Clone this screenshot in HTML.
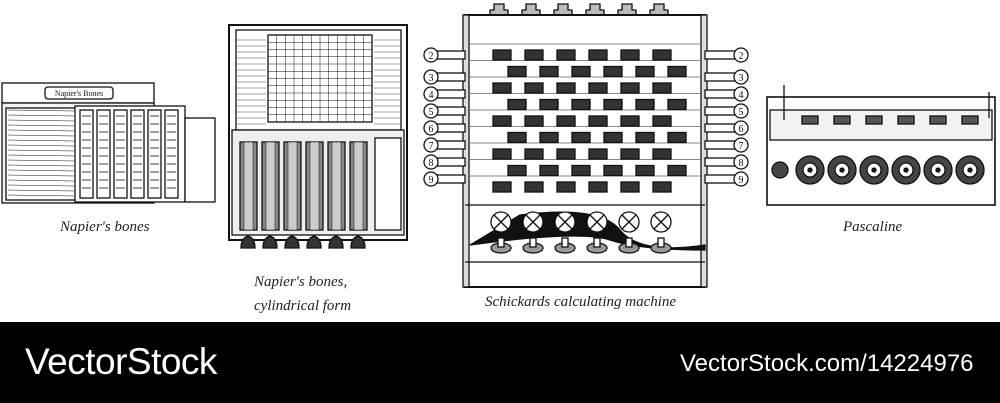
<!DOCTYPE html>
<html><head><meta charset="utf-8"><style>
body{margin:0;width:1000px;height:403px;overflow:hidden;background:#fff;font-family:"Liberation Serif",serif}
#bar{position:absolute;left:0;top:322px;width:1000px;height:81px;background:#000;color:#fff;font-family:"Liberation Sans",sans-serif}
.lbl{position:absolute;font-style:italic;font-size:15px;color:#222;font-family:"Liberation Serif",serif}
</style></head><body>
<svg id="s" width="1000" height="322" style="position:absolute;left:0;top:0" stroke="#111" fill="none" stroke-width="1.3">
<rect x="2" y="83" width="152" height="20" fill="#fff"/>
<rect x="45" y="87" width="68" height="12" rx="3" fill="#fff"/>
<text x="79" y="96" font-size="8" text-anchor="middle" fill="#111" stroke="none" font-family="Liberation Serif">Napier's Bones</text>
<rect x="2" y="103" width="152" height="100" fill="#f4f4f4"/>
<rect x="6" y="108" width="70" height="92" fill="#fff"/>
<rect x="75" y="106" width="110" height="96" fill="#fff"/>
<rect x="185" y="118" width="30" height="84" fill="#fff"/>
<g id="bones"></g>
<rect x="229" y="25" width="178" height="215" fill="#fff" stroke-width="2"/>
<rect x="236" y="30" width="165" height="100" fill="#fff"/>
<rect x="268" y="35" width="104" height="87" fill="#fff"/>
<g id="grid"></g>
<rect x="232" y="130" width="172" height="105" fill="#eee"/>
<g id="cyl"></g>
<g id="sch"></g>
<rect x="767" y="97" width="228" height="108" fill="#fff" stroke-width="1.6"/>
<rect x="770" y="110" width="222" height="30" fill="#f2f2f2"/>
<line x1="784" y1="85" x2="784" y2="120"/>
<line x1="989" y1="92" x2="989" y2="118"/>
<g id="pas"></g>
</svg>
<div class="lbl" style="left:60px;top:219px">Napier's bones</div>
<div class="lbl" style="left:254px;top:274px">Napier's bones,</div>
<div class="lbl" style="left:254px;top:298px">cylindrical form</div>
<div class="lbl" style="left:485px;top:294px">Schickards calculating machine</div>
<div class="lbl" style="left:843px;top:219px">Pascaline</div>
<div id="bar">
<div style="position:absolute;left:25px;top:19px;font-size:37px;letter-spacing:-0.5px">VectorStock</div>
<div style="position:absolute;left:680px;top:28px;font-size:24px">VectorStock.com/14224976</div>
</div>
<script>
const NS="http://www.w3.org/2000/svg";
function el(p,t,a){const e=document.createElementNS(NS,t);for(const k in a)e.setAttribute(k,a[k]);p.appendChild(e);return e}
let b=document.getElementById('bones');
for(let y=110;y<200;y+=5)el(b,'line',{x1:8,y1:y,x2:74,y2:y+1,'stroke-width':0.5});
for(let i=0;i<6;i++){let x=80+i*17;el(b,'rect',{x:x,y:110,width:13,height:88,fill:'#fff'});
 for(let y=116;y<196;y+=8)el(b,'line',{x1:x+2,y1:y,x2:x+11,y2:y,'stroke-width':0.8});}
let g=document.getElementById('grid');
for(let i=0;i<=12;i++){el(g,'line',{x1:268+i*8.67,y1:35,x2:268+i*8.67,y2:122,'stroke-width':0.5});}
for(let j=0;j<=12;j++){el(g,'line',{x1:268,y1:35+j*7.25,x2:372,y2:35+j*7.25,'stroke-width':0.5});}
for(let y=40;y<128;y+=6){el(g,'line',{x1:237,y1:y,x2:266,y2:y,'stroke-width':0.4});el(g,'line',{x1:374,y1:y,x2:400,y2:y,'stroke-width':0.4});}
let c=document.getElementById('cyl');
for(let i=0;i<6;i++){let x=240+i*22;el(c,'rect',{x:x,y:142,width:17,height:88,fill:'#888',stroke:'#111'});
 el(c,'rect',{x:x+4,y:142,width:9,height:88,fill:'#ccc','stroke-width':0.5});
 el(c,'path',{d:`M${x+1} 248 q0-10 7-12 q7 2 7 12 z`,fill:'#333'});}
el(c,'rect',{x:375,y:138,width:26,height:92,fill:'#fff'});
let h=document.getElementById('sch');
for(let i=0;i<6;i++){let x=498+i*32;el(h,'path',{d:`M${x-8} 16 v-6 h4 v-6 h10 v6 h4 v6 z`,fill:'#bbb'});}
el(h,'rect',{x:465,y:15,width:240,height:272,fill:'#fff','stroke-width':2});
el(h,'rect',{x:463,y:15,width:6,height:272,fill:'#ddd'});
el(h,'rect',{x:701,y:15,width:6,height:272,fill:'#ddd'});
for(let r=0;r<9;r++){
 let yy=50+r*16.5;
 el(h,'line',{x1:470,y1:yy-6,x2:700,y2:yy-6,'stroke-width':0.6});
 for(let i=0;i<6;i++){let x=(r%2==0?493:508)+i*32;el(h,'rect',{x:x,y:yy,width:18,height:10,fill:'#333'});}
 if(r>=1){let ly=60+(r-1)*17+(r==1?-5:0);
  el(h,'rect',{x:430,y:ly-4,width:35,height:8,fill:'#fff'});el(h,'circle',{cx:431,cy:ly,r:7,fill:'#fff'});
  el(h,'text',{x:431,y:ly+4,'font-size':10,'text-anchor':'middle',fill:'#111',stroke:'none'}).textContent=r+1;
  el(h,'rect',{x:705,y:ly-4,width:35,height:8,fill:'#fff'});el(h,'circle',{cx:741,cy:ly,r:7,fill:'#fff'});
  el(h,'text',{x:741,y:ly+4,'font-size':10,'text-anchor':'middle',fill:'#111',stroke:'none'}).textContent=r+1;}
}
el(h,'line',{x1:465,y1:205,x2:705,y2:205});
el(h,'path',{d:'M520 215 Q600 205 620 230 T705 245 L705 250 Q640 250 610 240 T470 245 Z',fill:'#111'});
for(let i=0;i<6;i++){let x=501+i*32;el(h,'circle',{cx:x,cy:222,r:10,fill:'#fff'});
 el(h,'line',{x1:x-7,y1:215,x2:x+7,y2:229});el(h,'line',{x1:x+7,y1:215,x2:x-7,y2:229});
 el(h,'ellipse',{cx:x,cy:248,rx:10,ry:5,fill:'#999'});el(h,'rect',{x:x-3,y:238,width:6,height:9,fill:'#fff'});}
el(h,'line',{x1:465,y1:262,x2:705,y2:262});
let p=document.getElementById('pas');
for(let i=0;i<6;i++){let x=810+i*32;el(p,'rect',{x:x-8,y:116,width:16,height:8,fill:'#555'});
 el(p,'circle',{cx:x,cy:170,r:14,fill:'#444'});el(p,'circle',{cx:x,cy:170,r:7,fill:'#fff'});el(p,'circle',{cx:x,cy:170,r:2,fill:'#111'});}
el(p,'circle',{cx:780,cy:170,r:8,fill:'#444'});
</script>
</body></html>
